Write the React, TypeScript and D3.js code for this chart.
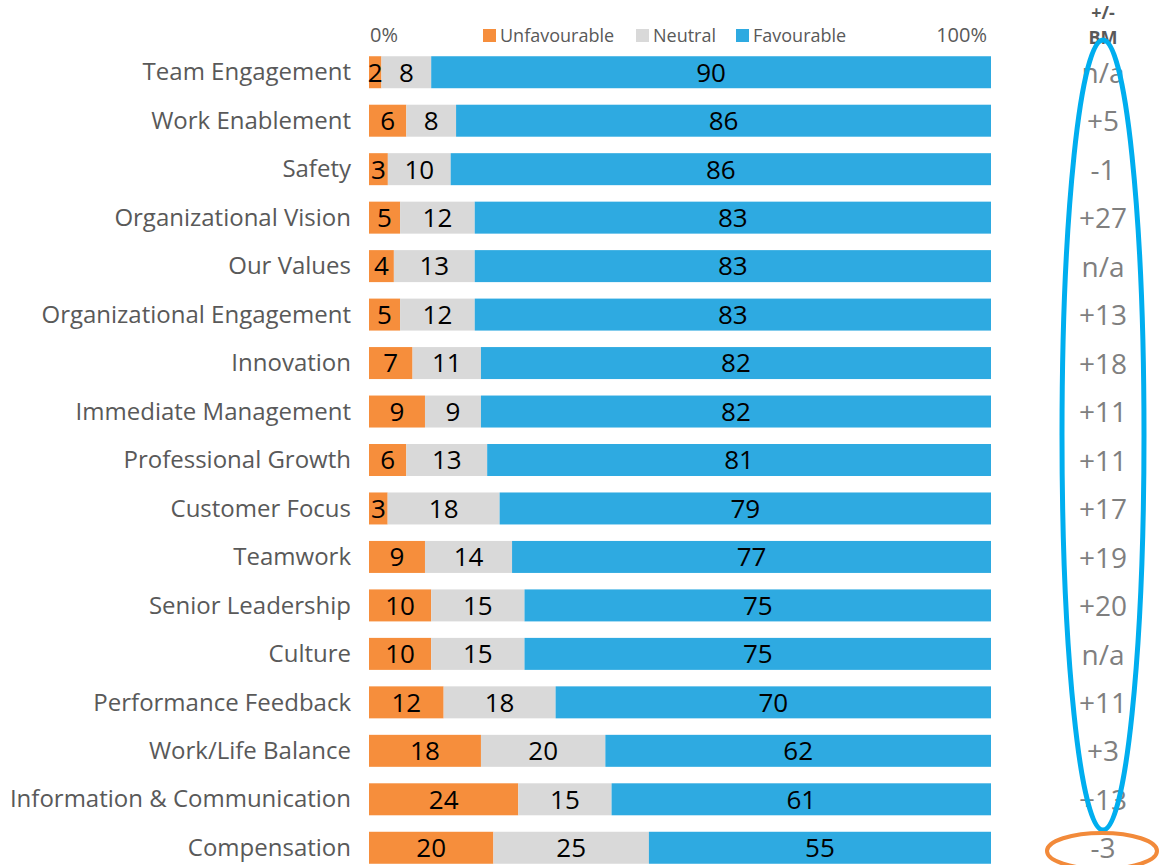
import React, { useEffect, useRef } from "react";
import * as d3 from "d3";

const categories = [
  "Team Engagement",
  "Work Enablement",
  "Safety",
  "Organizational Vision",
  "Our Values",
  "Organizational Engagement",
  "Innovation",
  "Immediate Management",
  "Professional Growth",
  "Customer Focus",
  "Teamwork",
  "Senior Leadership",
  "Culture",
  "Performance Feedback",
  "Work/Life Balance",
  "Information & Communication",
  "Compensation",
];

const unfavourable = [2, 6, 3, 5, 4, 5, 7, 9, 6, 3, 9, 10, 10, 12, 18, 24, 20];
const neutral = [8, 8, 10, 12, 13, 12, 11, 9, 13, 18, 14, 15, 15, 18, 20, 15, 25];
const favourable = [90, 86, 86, 83, 83, 83, 82, 82, 81, 79, 77, 75, 75, 70, 62, 61, 55];
const benchmark = ["n/a", "+5", "-1", "+27", "n/a", "+13", "+18", "+11", "+11", "+17", "+19", "+20", "n/a", "+11", "+3", "+13", "-3"];

const seriesKeys = ["unfavourable", "neutral", "favourable"];
const seriesLabels = ["Unfavourable", "Neutral", "Favourable"];
const seriesColors = ["#f68e3c", "#d9d9d9", "#2eaae1"];

const FONT = "'Open Sans', sans-serif";

export default function App() {
  const ref = useRef<SVGSVGElement | null>(null);

  useEffect(() => {
    const width = 1159;
    const height = 865;
    const left = 369;
    const right = 991;

    const svg = d3.select(ref.current);
    svg.selectAll("*").remove();

    const rows = categories.map((c, i) => {
      const total = unfavourable[i] + neutral[i] + favourable[i];
      return {
        category: c,
        unfavourable: (unfavourable[i] / total) * 100,
        neutral: (neutral[i] / total) * 100,
        favourable: (favourable[i] / total) * 100,
        raw: [unfavourable[i], neutral[i], favourable[i]],
        bm: benchmark[i],
      };
    });

    const stacked = d3.stack<any>().keys(seriesKeys)(rows);

    const x = d3.scaleLinear().domain([0, 100]).range([left, right]);
    const y = d3
      .scaleBand()
      .domain(categories)
      .range([48, 872])
      .paddingInner(0.34)
      .paddingOuter(0.17);

    const color = d3.scaleOrdinal<string>().domain(seriesKeys).range(seriesColors);

    // bars
    const layers = svg
      .append("g")
      .selectAll("g")
      .data(stacked)
      .enter()
      .append("g")
      .attr("fill", (d) => color(d.key));

    layers
      .selectAll("rect")
      .data((d) => d)
      .enter()
      .append("rect")
      .attr("x", (d) => x(d[0]))
      .attr("y", (d) => y(d.data.category)!)
      .attr("width", (d) => x(d[1]) - x(d[0]))
      .attr("height", y.bandwidth());

    // segment labels
    stacked.forEach((layer, si) => {
      svg
        .append("g")
        .selectAll("text")
        .data(layer)
        .enter()
        .append("text")
        .attr("x", (d) => (x(d[0]) + x(d[1])) / 2)
        .attr("y", (d) => y(d.data.category)! + y.bandwidth() / 2)
        .attr("dy", "0.36em")
        .attr("text-anchor", "middle")
        .style("font-family", FONT)
        .style("font-size", "26px")
        .attr("fill", "#000")
        .text((d) => d.data.raw[si]);
    });

    // category labels
    svg
      .append("g")
      .selectAll("text")
      .data(rows)
      .enter()
      .append("text")
      .attr("x", left - 18)
      .attr("y", (d) => y(d.category)! + y.bandwidth() / 2)
      .attr("dy", "0.34em")
      .attr("text-anchor", "end")
      .style("font-family", FONT)
      .style("font-size", "24px")
      .attr("fill", "#595959")
      .text((d) => d.category);

    // benchmark column
    svg
      .append("g")
      .selectAll("text")
      .data(rows)
      .enter()
      .append("text")
      .attr("x", 1103)
      .attr("y", (d) => y(d.category)! + y.bandwidth() / 2)
      .attr("dy", "0.38em")
      .attr("text-anchor", "middle")
      .style("font-family", FONT)
      .style("font-size", "28px")
      .attr("fill", "#7f7f7f")
      .text((d) => d.bm);

    const hdr = svg.append("g").style("font-family", FONT).style("font-size", "18px").style("font-weight", "bold").attr("fill", "#595959");
    hdr.append("text").attr("x", 1103).attr("y", 19).attr("text-anchor", "middle").text("+/-");
    hdr.append("text").attr("x", 1103).attr("y", 44).attr("text-anchor", "middle").text("BM");

    // axis end labels
    const axisText = svg.append("g").style("font-family", FONT).style("font-size", "20px").attr("fill", "#595959");
    axisText.append("text").attr("x", x(0) + 1).attr("y", 42).text("0%");
    axisText.append("text").attr("x", x(100) - 4).attr("y", 42).attr("text-anchor", "end").text("100%");

    // legend
    const legendX = [483, 636, 736];
    const legend = svg.append("g");
    seriesLabels.forEach((label, i) => {
      const g = legend.append("g").attr("transform", `translate(${legendX[i]},0)`);
      g.append("rect").attr("x", 0).attr("y", 29).attr("width", 13).attr("height", 13).attr("fill", seriesColors[i]);
      g.append("text")
        .attr("x", 17)
        .attr("y", 42)
        .style("font-family", FONT)
        .style("font-size", "18px")
        .attr("fill", "#595959")
        .text(label);
    });

    // highlight ellipses
    svg
      .append("ellipse")
      .attr("cx", 1103)
      .attr("cy", 435)
      .attr("rx", 41)
      .attr("ry", 395)
      .attr("fill", "none")
      .attr("stroke", "#00aeef")
      .attr("stroke-width", 5);

    svg
      .append("ellipse")
      .attr("cx", 1102)
      .attr("cy", 851)
      .attr("rx", 55)
      .attr("ry", 18)
      .attr("fill", "none")
      .attr("stroke", "#f28a3a")
      .attr("stroke-width", 4);

    svg.attr("width", width).attr("height", height);
  }, []);

  return (
    <svg
      ref={ref}
      width={1159}
      height={865}
      style={{ position: "absolute", left: 0, top: 0, background: "#fff" }}
    />
  );
}
